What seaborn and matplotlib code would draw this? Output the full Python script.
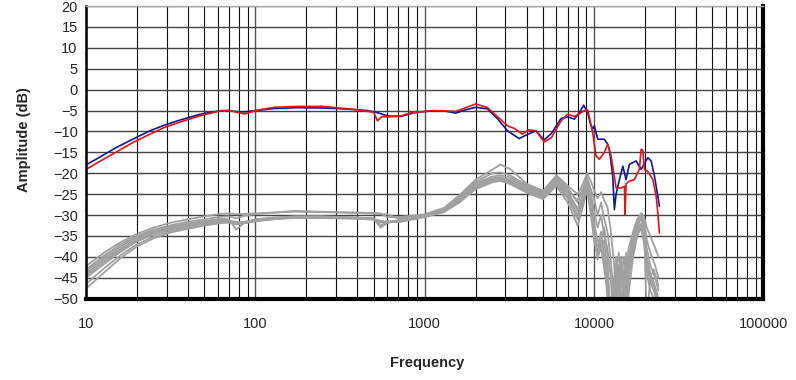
import matplotlib
matplotlib.use("Agg")
import matplotlib.pyplot as plt
import matplotlib.ticker as mticker
import numpy as np
import seaborn as sns

# Frequency response, blue and red measurements (Hz, dB)
blue_freq = [10, 12, 15, 19, 24, 29, 35, 47, 60, 70, 80, 87, 100, 130, 180, 250, 300,
             400, 460, 526, 610, 721, 850, 947, 1100, 1295, 1525, 1750, 2005, 2350,
             2700, 3085, 3613, 4000, 4537, 5082, 5600, 6383, 7000, 7650, 8200, 8690,
             9180, 9500, 9820, 10040, 10520, 11500, 12050, 12320, 12900, 13190, 13500,
             14130, 14800, 15460, 16180, 17730, 18970, 20790, 21750, 22750, 24340]
blue_db = [-18.0, -16.2, -13.9, -11.8, -9.8, -8.5, -7.4, -5.9, -5.1, -5.0, -5.3, -5.3,
           -5.0, -4.5, -4.3, -4.4, -4.5, -4.8, -5.0, -5.5, -6.3, -6.4, -5.6, -5.3, -5.1,
           -5.05, -5.6, -4.8, -4.2, -4.6, -7.0, -9.85, -11.7, -10.8, -9.85, -12.0,
           -10.5, -6.9, -6.5, -7.05, -5.5, -3.7, -5.5, -8.0, -9.45, -8.65, -11.85,
           -11.85, -13.05, -14.25, -20.7, -28.7, -25.0, -21.5, -18.3, -21.5, -17.85,
           -17.05, -19.05, -16.25, -17.05, -20.7, -27.9]

red_freq = [10, 12, 15, 19, 24, 29, 35, 47, 63, 70, 80, 87, 100, 130, 180, 250, 300,
            400, 460, 500, 526, 560, 610, 721, 850, 947, 1100, 1295, 1525, 1750, 2005,
            2350, 2700, 3085, 3400, 3784, 4100, 4537, 5082, 5600, 6383, 6987, 7650,
            8200, 8690, 9180, 9820, 10280, 10750, 11500, 12050, 12610, 13500, 14460,
            15130, 15250, 15460, 16180, 17310, 18540, 18970, 19400, 19850, 20790,
            22250, 23280, 23800, 24340]
red_db = [-19.1, -17.2, -15.0, -12.6, -10.6, -9.05, -7.9, -6.25, -5.0, -5.0, -5.5,
          -5.8, -5.0, -4.2, -4.0, -4.0, -4.3, -4.8, -5.2, -5.4, -7.45, -6.4, -6.5,
          -6.3, -5.4, -5.3, -5.0, -5.05, -5.2, -4.3, -3.4, -4.3, -6.5, -8.65, -9.3,
          -10.65, -9.6, -9.85, -12.5, -11.5, -7.5, -5.85, -6.4, -5.8, -5.05, -4.8,
          -10.25, -15.85, -16.65, -15.0, -13.05, -15.85, -23.5, -23.5, -23.1, -29.9,
          -22.5, -21.9, -21.5, -19.05, -14.25, -14.5, -19.05, -19.6, -21.5, -25.5,
          -29.5, -34.3]

# Grey family of curves share one frequency grid
gray_freq = [10, 13, 16, 20, 25, 32, 40, 50, 63, 70, 77, 85, 100, 130, 170, 250, 400,
             500, 550, 600, 700, 1000, 1300, 1600, 2000, 2500, 2800, 3200, 4000, 5000,
             6000, 7000,
             8000, 8600, 9100, 9600, 10000, 10500, 11000, 11500, 12000, 12500, 13000,
             13500, 14000, 14500, 15000, 15500, 16000, 17000, 18000, 19000, 19800,
             20500, 21500, 22500, 23300, 24000]

gray_1 = [-42.2, -38.8, -36.5, -34.5, -33.0, -31.8, -31.0, -30.3, -29.7, -29.6, -29.8,
          -29.7, -29.6, -29.4, -29.2, -29.3, -29.4, -29.5, -29.6, -30.5, -30.5, -29.8,
          -28.3, -25.3, -21.5, -19.2, -17.9, -19.0, -22.5, -24.2, -20.5, -23.0,
          -25.0, -22.5, -20.0, -22.0, -24.0, -26.0, -24.5, -26.5, -28.0, -33.0, -40.0,
          -47.0, -53.0, -45.0, -40.0, -44.0, -38.0, -34.0, -31.0, -29.5, -30.5, -33.0,
          -35.0, -37.0, -38.5, -40.0]
gray_2 = [-43.0, -39.5, -37.0, -35.0, -33.5, -32.4, -31.6, -31.0, -30.4, -30.3, -30.8,
          -30.2, -29.8, -29.4, -29.0, -29.2, -29.5, -29.6, -29.8, -29.8, -30.8, -30.0,
          -28.5, -25.5, -22.0, -20.0, -19.8, -20.5, -22.8, -24.5, -20.8, -24.0,
          -26.5, -23.5, -21.0, -24.0, -26.0, -30.0, -27.0, -31.0, -34.0, -40.0, -48.0,
          -55.0, -50.0, -42.0, -46.0, -54.0, -44.0, -37.0, -33.0, -30.5, -31.5, -36.0,
          -39.0, -41.0, -43.0, -45.0]
gray_3 = [-43.5, -40.0, -37.5, -35.3, -33.8, -32.7, -32.0, -31.4, -30.9, -31.0, -33.5,
          -32.0, -31.0, -30.6, -30.4, -30.4, -30.6, -30.8, -32.8, -31.8, -31.2, -30.0,
          -28.6, -25.8, -22.3, -20.8, -20.5, -21.0, -23.0, -24.8, -21.0, -23.5,
          -27.0, -24.0, -21.5, -25.0, -29.0, -33.0, -30.0, -35.0, -38.0, -44.0, -55.0,
          -48.0, -42.0, -50.0, -55.0, -46.0, -40.0, -35.0, -31.5, -30.0, -32.0, -38.0,
          -42.0, -44.0, -46.0, -48.0]
gray_4 = [-44.0, -40.5, -38.0, -35.7, -34.1, -32.9, -32.2, -31.6, -31.1, -31.3, -32.0,
          -31.8, -31.2, -30.7, -30.4, -30.4, -30.7, -30.9, -32.5, -31.6, -31.3, -30.1,
          -28.7, -26.0, -22.6, -21.2, -21.0, -21.5, -23.3, -25.0, -21.2, -24.5,
          -28.5, -25.0, -22.0, -26.0, -31.0, -40.7, -36.0, -33.0, -40.0, -55.0, -47.0,
          -40.0, -48.0, -55.0, -44.0, -39.0, -43.0, -36.0, -32.0, -31.0, -33.0, -40.0,
          -44.0, -46.0, -48.0, -50.0]
gray_5 = [-44.5, -41.0, -38.4, -36.0, -34.4, -33.2, -32.5, -31.9, -31.3, -31.4, -31.6,
          -31.7, -31.1, -30.6, -30.3, -30.3, -30.6, -30.8, -33.0, -31.9, -31.4, -30.2,
          -28.8, -26.2, -22.9, -21.4, -21.0, -21.8, -23.6, -25.2, -21.5, -25.0,
          -29.0, -26.0, -22.5, -27.0, -32.0, -36.0, -38.0, -36.0, -45.0, -52.0, -56.0,
          -45.0, -39.0, -44.0, -52.0, -48.0, -41.0, -37.0, -33.5, -32.0, -34.0, -55.0,
          -45.0, -43.0, -45.0, -47.0]
gray_6 = [-45.0, -41.5, -38.8, -36.3, -34.7, -33.4, -32.7, -32.1, -31.5, -31.5, -31.7,
          -31.9, -31.3, -30.8, -30.5, -30.5, -30.7, -30.9, -31.4, -31.7, -31.5, -30.3,
          -29.0, -26.4, -23.2, -21.6, -21.3, -22.0, -24.0, -25.5, -22.0, -25.5,
          -30.0, -26.5, -23.0, -28.0, -34.0, -38.0, -34.0, -40.0, -50.0, -56.0, -50.0,
          -42.0, -46.0, -56.0, -48.0, -42.0, -45.0, -38.0, -34.0, -32.5, -35.0, -41.0,
          -46.0, -48.0, -50.0, -52.0]
gray_7 = [-46.5, -42.5, -39.6, -37.0, -35.2, -33.8, -33.0, -32.3, -31.7, -31.6, -32.0,
          -31.9, -31.4, -30.9, -30.6, -30.6, -30.8, -31.0, -31.6, -31.5, -31.6, -30.4,
          -29.2, -26.8, -23.5, -21.9, -21.6, -22.3, -24.3, -25.8, -22.5, -26.0,
          -31.0, -27.0, -23.5, -29.0, -35.0, -39.0, -37.0, -43.0, -48.0, -53.0, -56.0,
          -52.0, -44.0, -40.0, -47.0, -56.0, -49.0, -40.0, -35.0, -33.0, -36.0, -43.0,
          -45.0, -47.0, -49.0, -51.0]
gray_8 = [-47.6, -43.5, -40.3, -37.5, -35.6, -34.1, -33.3, -32.5, -31.9, -31.8, -32.2,
          -32.0, -31.5, -31.0, -30.7, -30.7, -30.9, -31.1, -31.8, -31.6, -31.7, -30.5,
          -29.3, -27.0, -23.8, -22.2, -21.8, -22.6, -24.6, -26.2, -23.0, -27.0,
          -32.5, -28.0, -24.0, -30.0, -36.0, -40.0, -38.0, -41.0, -47.0, -56.0, -51.0,
          -43.0, -50.0, -56.0, -46.0, -41.0, -44.0, -39.0, -34.5, -33.0, -37.0, -44.0,
          -48.0, -50.0, -52.0, -54.0]

gray_curves = [gray_1, gray_2, gray_3, gray_4, gray_5, gray_6, gray_7, gray_8]

x_ticks = [10, 100, 1000, 10000, 100000]
x_tick_labels = ["10", "100", "1000", "10000", "100000"]
y_ticks = list(range(-50, 25, 5))

sns.set_style("white")
plt.rcParams['font.family'] = ['Liberation Sans', 'DejaVu Sans']

fig = plt.figure(figsize=(7.96, 3.80), dpi=100)
ax = fig.add_axes([0.108, 0.214, 0.851, 0.770])

# grey family first so the coloured curves sit on top
for g in gray_curves:
    sns.lineplot(x=gray_freq, y=g, ax=ax, color='#a0a0a0', linewidth=1.3,
                 estimator=None, sort=False)
sns.lineplot(x=blue_freq, y=blue_db, ax=ax, color='#0a1a9a', linewidth=1.2,
             estimator=None, sort=False)
sns.lineplot(x=red_freq, y=red_db, ax=ax, color='#ee1111', linewidth=1.2,
             estimator=None, sort=False)

ax.set_xscale('log')
ax.set_xlim(10, 100000)
ax.set_ylim(-50, 20)

ax.xaxis.set_major_locator(mticker.FixedLocator(x_ticks))
ax.xaxis.set_major_formatter(mticker.FixedFormatter(x_tick_labels))
ax.xaxis.set_minor_locator(mticker.LogLocator(base=10, subs=np.arange(2, 10), numticks=20))
ax.xaxis.set_minor_formatter(mticker.NullFormatter())
ax.set_yticks(y_ticks)

# Excel-like grid
ax.grid(True, which='major', axis='x', color='#555555', linewidth=1.0)
ax.grid(True, which='minor', axis='x', color='#111111', linewidth=0.8)
ax.grid(True, which='major', axis='y', color='#444444', linewidth=1.0)
ax.set_axisbelow(True)

ax.tick_params(axis='both', which='major', labelsize=10.5, length=4, width=1,
               color='black', direction='out')
ax.tick_params(axis='x', which='major', pad=9)
ax.tick_params(axis='x', which='minor', length=0)
ax.tick_params(axis='y', pad=2)

ax.spines['left'].set_color('black')
ax.spines['left'].set_linewidth(1.8)
ax.spines['bottom'].set_color('black')
ax.spines['bottom'].set_linewidth(3.0)
ax.spines['right'].set_color('black')
ax.spines['right'].set_linewidth(3.0)
ax.spines['top'].set_color('#aaaaaa')
ax.spines['top'].set_linewidth(1.0)

ax.set_xlabel("Frequency", fontsize=10.5, fontweight='bold')
ax.set_ylabel("Amplitude (dB)", fontsize=10.5, fontweight='bold')
ax.xaxis.set_label_coords(0.503, -0.195)
ax.yaxis.set_label_coords(-0.081, 0.543)

fig.savefig('out.png', dpi=100)
